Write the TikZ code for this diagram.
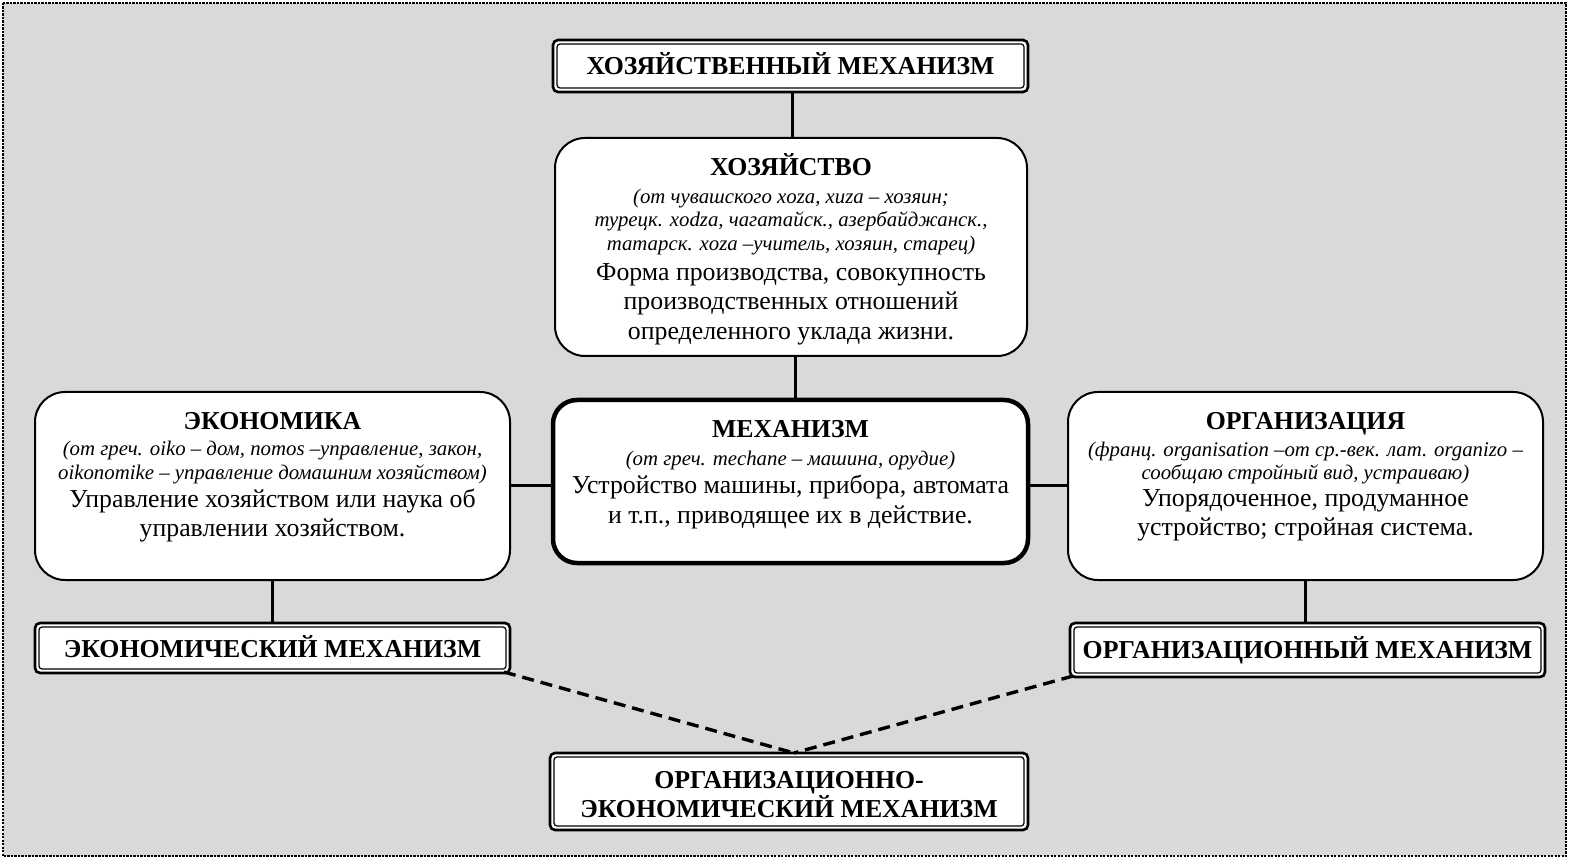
\documentclass[tikz,border=0pt]{standalone}
\usepackage{fontspec}
\setmainfont{Liberation Serif}
\definecolor{bggray}{RGB}{217,217,217}
\begin{document}
\begin{tikzpicture}[x=1pt,y=-1pt,
  box/.style={draw, fill=white, inner sep=0pt, outer sep=0pt},
  rbox/.style={box, rounded corners=30pt, line width=2pt},
  mbox/.style={box, rounded corners=24pt, line width=4.5pt},
  tbox/.style={box, rounded corners=5pt, line width=2.6pt},
  innerline/.style={line width=1.2pt, rounded corners=3pt},
  conn/.style={line width=3pt},
  dconn/.style={line width=3.4pt, dash pattern=on 12pt off 7pt},
  head/.style={font=\fontsize{25.8}{30}\selectfont\bfseries, anchor=base, inner sep=0pt},
  ety/.style={font=\fontsize{20.8}{23.5}\selectfont\itshape, align=center, inner sep=0pt},
  body/.style={font=\fontsize{25.8}{29.5}\selectfont, align=center, inner sep=0pt},
]
\useasboundingbox (0,0) rectangle (1569,858);
\fill[white] (0,0) rectangle (1569,858);
\draw[line width=2.4pt, dash pattern=on 2.2pt off 1.3pt, fill=bggray] (3,3) rectangle (1566,856);

% boxes
\node[tbox, minimum width=475pt, minimum height=52pt] (title) at (790.5,66) {};
\node[rbox, minimum width=472pt, minimum height=218pt] (hoz) at (791,247) {};
\node[mbox, minimum width=475pt, minimum height=163pt] (mech) at (790.5,481.5) {};
\node[rbox, minimum width=475pt, minimum height=188pt] (econ) at (272.5,486) {};
\node[rbox, minimum width=475pt, minimum height=188pt] (org) at (1305.5,486) {};
\node[tbox, minimum width=475pt, minimum height=50pt] (econmech) at (272.5,648) {};
\node[tbox, minimum width=475pt, minimum height=54pt] (orgmech) at (1307.5,650) {};
\node[tbox, minimum width=478pt, minimum height=77pt] (oe) at (789,791.5) {};

\foreach \n in {title,econmech,orgmech,oe}
  \draw[innerline] ([shift={(4,4)}]\n.north west) rectangle ([shift={(-4,-4)}]\n.south east);

% connectors
\draw[conn] ([xshift=1.5pt]title.south) -- ([xshift=1.5pt]title.south |- hoz.north);
\draw[conn] ([xshift=4pt]hoz.south) -- ([xshift=4pt]hoz.south |- mech.north);
\draw[conn] ([yshift=1pt]econ.east) -- ([yshift=1pt]econ.east -| mech.west);
\draw[conn] ([yshift=1pt]org.west) -- ([yshift=1pt]org.west -| mech.east);
\draw[conn] (econ.south) -- (econ.south |- econmech.north);
\draw[conn] (org.south) -- (org.south |- orgmech.north);
\coordinate (oetop) at ([xshift=5pt]oe.north);
\draw[dconn] ([xshift=-6pt,yshift=1pt]econmech.south east) -- (oetop);
\draw[dconn] ([xshift=3pt,yshift=1pt]orgmech.south west) -- (oetop);

% texts
\node[head] (titlet) at (790.5,75) {ХОЗЯЙСТВЕННЫЙ МЕХАНИЗМ};

\node[head] (hozh) at (791,176) {ХОЗЯЙСТВО};
\node[ety] (hoze) at (791,222) {(от чувашского xoza, xuza – хозяин;\\турецк. xodza, чагатайск., азербайджанск.,\\татарск. xoza –учитель, хозяин, старец)};
\node[body] (hozb) at (791,304) {Форма производства, совокупность\\производственных отношений\\определенного уклада жизни.};

\node[head] (mechh) at (790.5,438) {МЕХАНИЗМ};
\node[ety] (meche) at (790.5,461) {(от греч. mechane – машина, орудие)};
\node[body] (mechb) at (790.5,502) {Устройство машины, прибора, автомата\\и т.п., приводящее их в действие.};

\node[head] (econh) at (272.5,429) {ЭКОНОМИКА};
\node[ety] (econe) at (272.5,462.5) {(от греч. oiko – дом, nomos –управление, закон,\\oikonomike – управление домашним хозяйством)};
\node[body] (econb) at (272.5,515.5) {Управление хозяйством или наука об\\управлении хозяйством.};

\node[head] (orgh) at (1305.5,429) {ОРГАНИЗАЦИЯ};
\node[ety] (orge) at (1305.5,463) {(франц. organisation –от ср.-век. лат. organizo –\\сообщаю стройный вид, устраиваю)};
\node[body] (orgb) at (1305.5,515.5) {Упорядоченное, продуманное\\устройство; стройная система.};

\node[head] (econmecht) at (272.5,657) {ЭКОНОМИЧЕСКИЙ МЕХАНИЗМ};
\node[head] (orgmecht) at (1307.5,658) {ОРГАНИЗАЦИОННЫЙ МЕХАНИЗМ};
\node[head] (oet1) at (789,788) {ОРГАНИЗАЦИОННО-};
\node[head] (oet2) at (789,817) {ЭКОНОМИЧЕСКИЙ МЕХАНИЗМ};
\end{tikzpicture}
\end{document}
